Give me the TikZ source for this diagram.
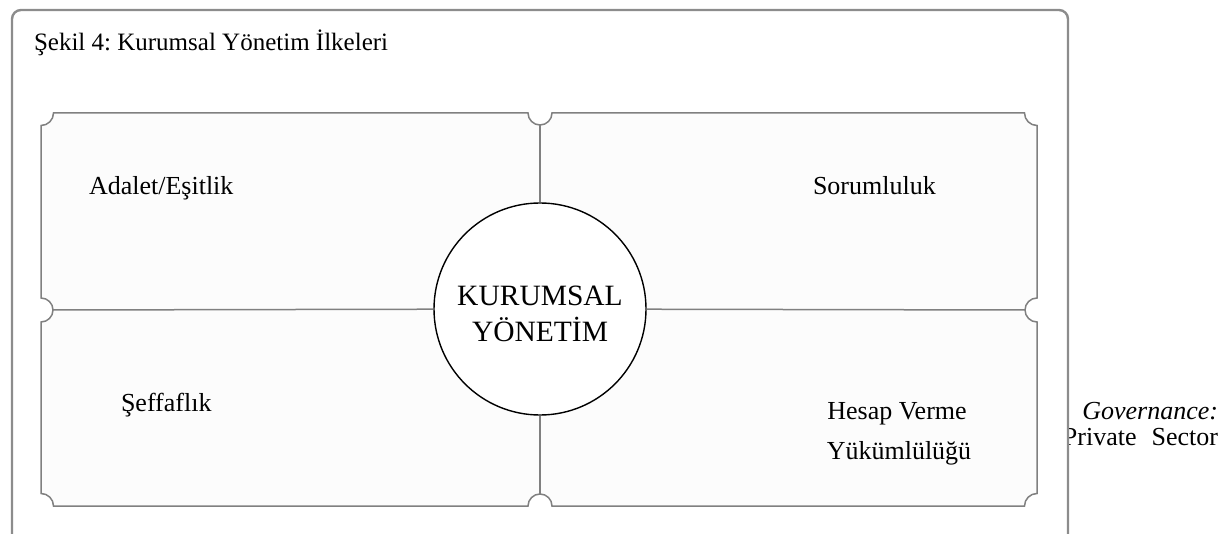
\documentclass[tikz,border=0pt]{standalone}
\usepackage{fontspec}
\setmainfont{Liberation Serif}
\frenchspacing
\begin{document}
\begin{tikzpicture}[x=1pt,y=1pt,
  lbl/.style={inner sep=0pt, outer sep=0pt, font=\fontsize{26}{31}\selectfont},
  hubtext/.style={inner sep=0pt, outer sep=0pt, font=\fontsize{29.5}{36}\selectfont},
  frame/.style={draw=black!45, line width=2.4pt, fill=white, rounded corners=9pt},
  tile/.style={draw=black!50, line width=1.5pt, fill=black!1},
  conn/.style={draw=black!50, line width=1.5pt},
  hub/.style={circle, draw=black, line width=1.4pt, fill=white, minimum size=212pt, inner sep=0pt}]
\path[use as bounding box, clip] (0,0) rectangle (1230,533);
% text partly hidden behind the frame
\node[lbl, font=\fontsize{26}{31}\selectfont\itshape, anchor=base east] (gov) at (1218,114) {Governance:};
\node[lbl, anchor=base east] (priv) at (1218,88) {Private\hspace{15pt}Sector};
% outer frame
\draw[frame] (12,-10) -- (12,523) -- (1068,523) -- (1068,-10);
\node[lbl, font=\fontsize{25}{30}\selectfont, anchor=base west] (title) at (34,482) {Şekil 4: Kurumsal Yönetim İlkeleri};
% notched matrix
\draw[tile] (41,407.5) arc[start angle=270,end angle=360,radius=12.5]
  -- (528,420) arc[start angle=180,end angle=360,radius=12]
  -- (1024.5,420) arc[start angle=180,end angle=270,radius=12.5]
  -- (1037,235) arc[start angle=90,end angle=270,radius=12]
  -- (1037,39.5) arc[start angle=90,end angle=180,radius=12.5]
  -- (552,27) arc[start angle=0,end angle=180,radius=12]
  -- (53.5,27) arc[start angle=0,end angle=90,radius=12.5]
  -- (41,211) arc[start angle=-90,end angle=90,radius=12]
  -- cycle;
\coordinate (nt) at (540,408);
\coordinate (nb) at (540,39);
\coordinate (nl) at (53,223);
\coordinate (nr) at (1025,223);
\node[hub] (core) at (540,224) {};
\draw[conn] (nt) -- (core);
\draw[conn] (core) -- (nb);
\draw[conn] (nl) -- (core);
\draw[conn] (core) -- (nr);
\node[hubtext, anchor=base] (k1) at (540,227) {KURUMSAL};
\node[hubtext, anchor=base] (k2) at (540,192) {YÖNETİM};
% quadrant labels
\node[lbl, anchor=base west] (q1) at (89,338) {Adalet/Eşitlik};
\node[lbl, anchor=base west] (q2) at (813,338) {Sorumluluk};
\node[lbl, anchor=base west] (q3) at (121,122) {Şeffaflık};
\node[lbl, anchor=base] (q4a) at (897,114) {Hesap Verme};
\node[lbl, anchor=base] (q4b) at (899,74) {Yükümlülüğü};
\end{tikzpicture}
\end{document}
